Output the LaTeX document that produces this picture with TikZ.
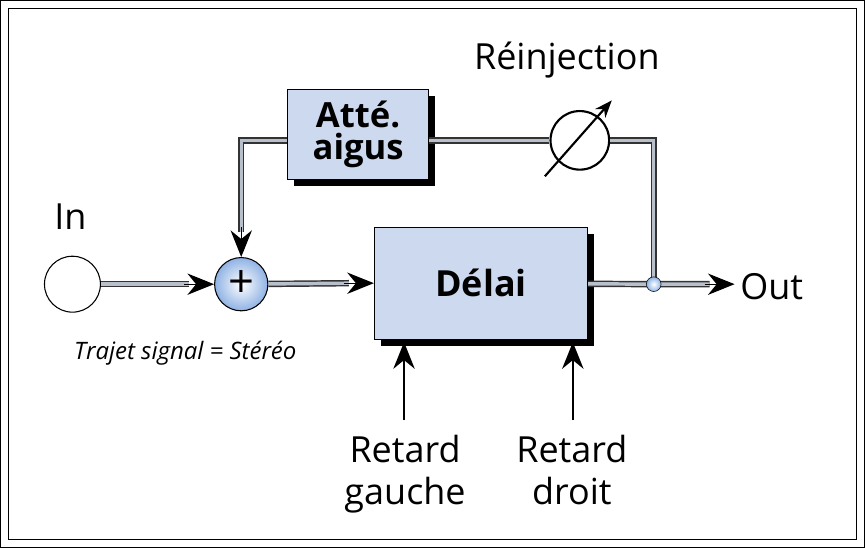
\documentclass[tikz,border=0pt]{standalone}
\usepackage{fontspec}
\setmainfont{Open Sans}
\usetikzlibrary{positioning, arrows.meta, shadows, calc}
\definecolor{boxblue}{HTML}{CCD9EE}
\definecolor{pipegray}{HTML}{B8C0CC}
\definecolor{ballblue}{HTML}{8FB2E4}
\tikzstyle{block} = [rectangle, draw, thick, fill=boxblue, text centered,
  font=\fontsize{27}{29}\selectfont\bfseries, drop shadow={shadow xshift=5pt, shadow yshift=-5pt, fill=black, opacity=1}]
\tikzstyle{pipe} = [draw=black!80, double=pipegray, double distance=2.6pt, line width=1.1pt]
\tikzset{sigarrow/.style={-{Stealth[length=20pt,width=16pt]}, line width=1pt},
  potarrow/.style={-{Stealth[length=13pt,width=10pt]}, line width=1.6pt}}
\tikzstyle{ball} = [circle, draw, thin, inner color=white, outer color=ballblue]
\tikzstyle{label} = [font=\fontsize{27}{29}\selectfont, align=center]
\begin{document}
\begin{tikzpicture}[x=0.75pt, y=-0.75pt]
        \draw[line width=0.8pt] (0,0) rectangle (865,548);
        \draw[line width=0.6pt] (8,8) rectangle (857,540);
        % nodes
        \node (in) [circle, draw, thick, fill=white, minimum size=42pt] at (72,284) {};
        \node (sum) [ball, thick, minimum size=40pt,
          font=\fontsize{34}{34}\selectfont, inner sep=0pt] at (241,284) {+};
        \node (delai) [block, minimum width=160pt, minimum height=84pt] at (481,283) {Délai};
        \node (atte) [block, minimum width=106pt, minimum height=68pt, align=center,
          font=\fontsize{26}{26}\selectfont\bfseries] at (358,134) {Atté.\\[-2pt]aigus};
        \node (pot) [circle, draw, line width=1.6pt, minimum size=44pt] at (580,140) {};
        \coordinate (junc) at (654,284);
        \coordinate (out) at (735,284);
        \coordinate (gl) at (404,420);
        \coordinate (dr) at (573,420);
        % labels
        \node[label] at (70,216) {In};
        \node[label, anchor=west] (outl) at (736,286) {Out};
        \node[label] at (567,60) {Réinjection};
        \node[font=\itshape\fontsize{18}{20}\selectfont] at (185,353) {Trajet signal = Stéréo};
        \node[label, anchor=north, font=\fontsize{27}{32}\selectfont] (glab) at (405,430) {Retard\\gauche};
        \node[label, anchor=north, font=\fontsize{27}{32}\selectfont] (dlab) at (572,430) {Retard\\droit};
        % pipes
        \draw[pipe] (in) -- ($(sum.west)+(-25,0)$);
        \draw[sigarrow] ($(sum.west)+(-30,0)$) -- (sum.west);
        \draw[pipe] (sum) -- ($(delai.west)+(-25,0)$);
        \draw[sigarrow] ($(delai.west)+(-30,0)$) -- (delai.west);
        \draw[pipe] (delai) -- (junc) -- ($(out)+(-25,0)$);
        \draw[sigarrow] ($(out)+(-30,0)$) -- (out);
        \draw[pipe] (junc) |- (pot);
        \draw[pipe] (pot.west) -- (pot.west -| atte.east);
        \draw[pipe] (atte.west |- pot.west) -| ($(sum.north)+(0,-25)$);
        \draw[sigarrow] ($(sum.north)+(0,-30)$) -- (sum.north);
        \node (jball) [ball, minimum size=11pt, inner sep=0pt] at (junc) {};
        \draw[potarrow] (545,176) -- (612,100);
        % controls
        \draw[sigarrow, line width=1.8pt] (gl) -- (404,342);
        \draw[sigarrow, line width=1.8pt] (dr) -- (573,342);
\end{tikzpicture}
\end{document}
